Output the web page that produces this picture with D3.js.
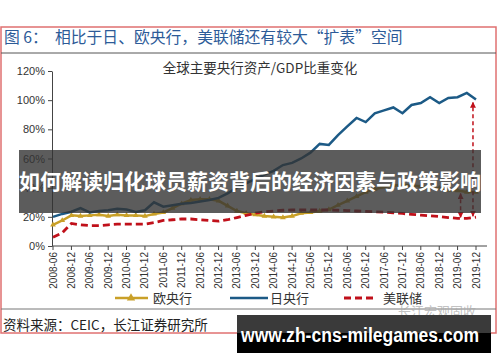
<!DOCTYPE html>
<html>
<head>
<meta charset="utf-8">
<script src="https://d3js.org/d3.v7.min.js"></script>
<style>
body { margin: 0; background: #fff; }
text { font-family: "Liberation Sans", "Noto Sans CJK SC", sans-serif; }
.cjk { font-family: "Noto Sans CJK SC", sans-serif; }
</style>
</head>
<body>
<script>
var w = 500, h = 362;

// quarterly observations, 2008-06 .. 2019-12
var quarters = ["2008-06","2008-09","2008-12",
  "2009-03","2009-06","2009-09","2009-12","2010-03","2010-06","2010-09","2010-12",
  "2011-03","2011-06","2011-09","2011-12","2012-03","2012-06","2012-09","2012-12",
  "2013-03","2013-06","2013-09","2013-12","2014-03","2014-06","2014-09","2014-12",
  "2015-03","2015-06","2015-09","2015-12","2016-03","2016-06","2016-09","2016-12",
  "2017-03","2017-06","2017-09","2017-12","2018-03","2018-06","2018-09","2018-12",
  "2019-03","2019-06","2019-09","2019-12"];

// 日央行 (BOJ) assets / GDP, %
var boj = [20, 22, 23.5, 26, 23, 24, 24.5, 25.5, 25, 23.3, 24.5, 30, 27, 28, 29, 29.5,
  30.5, 31.5, 33, 36, 40, 43, 46, 49, 51.5, 55.5, 57, 60, 64, 70, 69.3, 76, 82, 87.8,
  85, 91, 93, 95, 91, 96.7, 98, 102, 98, 101.5, 102, 105, 100.5];

// 欧央行 (ECB)
var ecb = [14.5, 17.5, 21, 20.5, 21, 21.5, 20.5, 21.5, 21, 21, 20.5, 22, 23, 26, 29, 31.5,
  32, 32, 31, 27.5, 24, 22.5, 21.5, 20.5, 20, 19.5, 20.5, 22.5, 23, 24, 25, 28, 31, 34,
  37, 39, 40.5, 41.5, 42, 41.5, 41, 40, 39.5, 38.5, 38, 37, 37];

// 美联储 (Fed)
var fed = [6, 9, 15.5, 14.5, 14, 14, 14.5, 15, 15, 15, 15, 16, 17.5, 18, 18.5, 18.5,
  18, 17.5, 17, 18, 19.5, 21, 22.5, 23.5, 24, 24.5, 24.7, 24.7, 24.7, 24.7, 24.7, 24.5,
  24.3, 24, 23.7, 23.5, 23.2, 22.8, 22.3, 21.7, 21.2, 20.7, 20.2, 19.5, 19, 19, 19.8];

var xTickLabels = ["2008-06","2008-12","2009-06","2009-12","2010-06","2010-12",
  "2011-06","2011-12","2012-06","2012-12","2013-06","2013-12","2014-06","2014-12",
  "2015-06","2015-12","2016-06","2016-12","2017-06","2017-12","2018-06","2018-12",
  "2019-06","2019-12"];
var yTicks = [0, 20, 40, 60, 80, 100, 120];

// gap arrows at the end of the period
var gapDates = ["2019-07", "2019-11"];

var parse = d3.timeParse("%Y-%m");

var svg = d3.select("body").append("svg").attr("width", w).attr("height", h);

// frame + headings
svg.append("rect").attr("x", 1).attr("y", 27).attr("width", 495).attr("height", 306)
  .attr("fill", "none").attr("stroke", "#e07070").attr("stroke-width", 1.5);
svg.append("text").attr("class", "cjk").attr("x", 4).attr("y", 43)
  .attr("font-size", "15.8px").attr("fill", "#2d5b98").style("white-space", "pre")
  .text("图 6：  相比于日、欧央行，美联储还有较大“扩表”空间");
svg.append("line").attr("x1", 1).attr("x2", 496).attr("y1", 53).attr("y2", 53)
  .attr("stroke", "#555").attr("stroke-width", 1);
svg.append("text").attr("class", "cjk").attr("x", 260).attr("y", 73)
  .attr("text-anchor", "middle").attr("font-size", "13.5px").attr("fill", "#333")
  .text("全球主要央行资产/GDP比重变化");

var x = d3.scaleTime().domain([parse("2008-06"), parse("2019-12")]).range([53, 476]);
var y = d3.scaleLinear().domain([0, 120]).range([246, 71]);

// y axis
var yAxis = svg.append("g").attr("transform", "translate(52,0)")
  .call(d3.axisLeft(y).tickValues(yTicks).tickSize(4).tickSizeOuter(0)
    .tickFormat(function(d){ return d + "%"; }));
yAxis.select(".domain").attr("stroke", "#444");
yAxis.selectAll(".tick line").attr("stroke", "#444");
yAxis.selectAll("text").attr("font-size", "11px").attr("fill", "#333")
  .attr("font-family", "Liberation Sans");

// x axis
var xAxis = svg.append("g").attr("transform", "translate(0,246)");
xAxis.append("line").attr("x1", 52).attr("x2", 487).attr("stroke", "#444");
xAxis.selectAll(".xt").data(xTickLabels).enter().append("line")
  .attr("x1", function(d){ return x(parse(d)); })
  .attr("x2", function(d){ return x(parse(d)); })
  .attr("y1", 0).attr("y2", 4).attr("stroke", "#444");
xAxis.selectAll(".xl").data(xTickLabels).enter().append("text")
  .attr("transform", function(d){ return "translate(" + x(parse(d)) + ",6) rotate(-90)"; })
  .attr("text-anchor", "end").attr("dy", "0.35em")
  .attr("font-size", "10px").attr("fill", "#333")
  .text(function(d){ return d; });

var line = d3.line()
  .x(function(d, i){ return x(parse(quarters[i])); })
  .y(function(d){ return y(d); });

var gold = "#c9a028", blue = "#1c5a86", red = "#c0101a";

svg.append("path").datum(ecb).attr("d", line).attr("fill", "none")
  .attr("stroke", gold).attr("stroke-width", 2.5);
svg.selectAll(".ecbm").data(ecb).enter().append("path")
  .attr("d", d3.symbol(d3.symbolTriangle, 14))
  .attr("transform", function(d, i){ return "translate(" + x(parse(quarters[i])) + "," + y(d) + ")"; })
  .attr("fill", gold);

svg.append("path").datum(boj).attr("d", line).attr("fill", "none")
  .attr("stroke", blue).attr("stroke-width", 2.5);

svg.append("path").datum(fed).attr("d", line).attr("fill", "none")
  .attr("stroke", red).attr("stroke-width", 2.8).attr("stroke-dasharray", "7,4");

// gap arrows
svg.append("defs").append("marker").attr("id", "ah")
  .attr("viewBox", "0 0 10 10").attr("refX", 9).attr("refY", 5)
  .attr("markerWidth", 4).attr("markerHeight", 4).attr("orient", "auto-start-reverse")
  .append("path").attr("d", "M0,0L10,5L0,10z").attr("fill", red);
var gapEnds = [[fed[44], ecb[44]], [fed[46], boj[46]]];
svg.selectAll(".gap").data(gapEnds).enter().append("line")
  .attr("x1", function(d, i){ return x(parse(gapDates[i])); })
  .attr("x2", function(d, i){ return x(parse(gapDates[i])); })
  .attr("y1", function(d){ return y(d[0]) - 1; })
  .attr("y2", function(d){ return y(d[1]) + 3; })
  .attr("stroke", red).attr("stroke-width", 1.5).attr("stroke-dasharray", "4,3")
  .attr("marker-start", "url(#ah)").attr("marker-end", "url(#ah)");

// legend
var lg = svg.append("g").attr("transform", "translate(0,298)");
lg.append("line").attr("x1", 115).attr("x2", 148).attr("stroke", gold).attr("stroke-width", 2.5);
lg.append("path").attr("d", d3.symbol(d3.symbolTriangle, 30)).attr("transform", "translate(131,0)").attr("fill", gold);
lg.append("text").attr("class", "cjk").attr("x", 153).attr("dy", "0.35em").attr("font-size", "13px").attr("fill", "#333").text("欧央行");
lg.append("line").attr("x1", 230).attr("x2", 268).attr("stroke", blue).attr("stroke-width", 2.5);
lg.append("text").attr("class", "cjk").attr("x", 270).attr("dy", "0.35em").attr("font-size", "13px").attr("fill", "#333").text("日央行");
lg.append("line").attr("x1", 344).attr("x2", 376).attr("stroke", red).attr("stroke-width", 2.8).attr("stroke-dasharray", "7,4");
lg.append("text").attr("class", "cjk").attr("x", 383).attr("dy", "0.35em").attr("font-size", "13px").attr("fill", "#333").text("美联储");

svg.append("line").attr("x1", 1).attr("x2", 496).attr("y1", 309).attr("y2", 309)
  .attr("stroke", "#777").attr("stroke-width", 1);
svg.append("text").attr("class", "cjk").attr("x", 398).attr("y", 316)
  .attr("font-size", "13px").attr("fill", "#aaa").attr("opacity", 0.7).text("长江宏观固收");
svg.append("text").attr("class", "cjk").attr("x", 3).attr("y", 330)
  .attr("font-size", "13.5px").attr("fill", "#222")
  .text("资料来源：CEIC，长江证券研究所");

// overlay banner
svg.append("rect").attr("x", 19).attr("y", 150).attr("width", 462).attr("height", 63)
  .attr("fill", "#333").attr("opacity", 0.8);
svg.append("text").attr("class", "cjk").attr("x", 250).attr("y", 189)
  .attr("text-anchor", "middle").attr("font-size", "21px").attr("font-weight", "bold")
  .attr("fill", "#fff").text("如何解读归化球员薪资背后的经济因素与政策影响");

// site stamp
svg.append("rect").attr("x", 237).attr("y", 315).attr("width", 254).attr("height", 38).attr("fill", "#000");
svg.append("rect").attr("x", 237).attr("y", 315).attr("width", 254).attr("height", 18).attr("fill", "#3a3a3a");
svg.append("text").attr("x", 241).attr("y", 342).attr("font-family", "Open Sans")
  .attr("font-size", "20px").attr("font-weight", "bold").attr("fill", "#fff")
  .attr("textLength", 238).attr("lengthAdjust", "spacingAndGlyphs")
  .text("www.zh-cns-milegames.com");
</script>
</body>
</html>
